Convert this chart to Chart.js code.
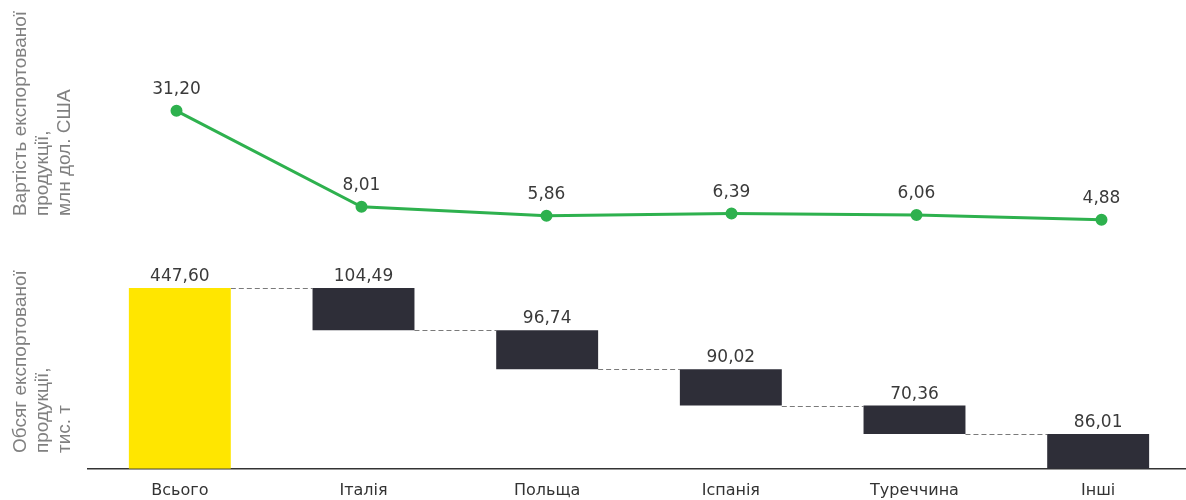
<!DOCTYPE html>
<html>
<head>
<meta charset="utf-8">
<script src="https://cdn.jsdelivr.net/npm/chart.js@4.4.1/dist/chart.umd.min.js"></script>
<style>
  html, body { margin: 0; padding: 0; background: #fff; overflow: hidden; width: 1186px; height: 500px; }
  #top { position: absolute; left: 0; top: 0; }
  #bottom { position: absolute; left: 0; top: 250px; }
  .ttl { position: absolute; transform-origin: 0 0; transform: rotate(-90deg); white-space: nowrap;
         font-family: "Liberation Sans", Arial, sans-serif; font-size: 19px; line-height: 20px; color: #808080; }
</style>
</head>
<body>
<canvas id="top" width="1194" height="250"></canvas>
<canvas id="bottom" width="1190" height="256"></canvas>

<div class="ttl" style="left:10px; top:216px;">Вартість експортованої</div>
<div class="ttl" style="left:32px; top:216px;">продукції,</div>
<div class="ttl" style="left:54px; top:216px;">млн дол. США</div>

<div class="ttl" style="left:10px; top:453px;">Обсяг експортованої</div>
<div class="ttl" style="left:32px; top:453px;">продукції,</div>
<div class="ttl" style="left:54px; top:453px;">тис. т</div>

<script>
// ---- data ----
const categories = ['Всього', 'Італія', 'Польща', 'Іспанія', 'Туреччина', 'Інші'];
const exportValue = [31.20, 8.01, 5.86, 6.39, 6.06, 4.88];      // млн дол. США
const totalVolume = 447.60;                                       // тис. т
const countryVolumes = [104.49, 96.74, 90.02, 70.36, 86.01];      // тис. т

// ---- derived waterfall ranges ----
const volumeLabels = [totalVolume].concat(countryVolumes);
const barRanges = [[0, totalVolume]];
let level = totalVolume;
countryVolumes.forEach(v => {
  const low = Math.max(0, level - v);
  barRanges.push([low, level]);
  level = low;
});
const fmt = v => v.toFixed(2).replace('.', ',');

const LABEL_FONT = '17px "DejaVu Sans", sans-serif';
const LABEL_COLOR = '#3a3a3a';

const valueLabels = {
  id: 'valueLabels',
  afterDatasetsDraw(chart, args, opts) {
    const ctx = chart.ctx;
    const meta = chart.getDatasetMeta(0);
    ctx.save();
    ctx.font = LABEL_FONT;
    ctx.fillStyle = LABEL_COLOR;
    ctx.textAlign = 'center';
    ctx.textBaseline = 'alphabetic';
    meta.data.forEach((el, i) => {
      const p = el.getProps(['x', 'y', 'base'], true);
      const topY = (p.base !== undefined) ? Math.min(p.y, p.base) : p.y;
      ctx.fillText(opts.labels[i], p.x, topY - opts.offset);
    });
    ctx.restore();
  }
};

const connectors = {
  id: 'connectors',
  beforeDatasetsDraw(chart) {
    const ctx = chart.ctx;
    const meta = chart.getDatasetMeta(0);
    const yScale = chart.scales.y;
    ctx.save();
    ctx.strokeStyle = '#7a7a7a';
    ctx.lineWidth = 1;
    ctx.setLineDash([5, 3]);
    for (let i = 0; i < meta.data.length - 1; i++) {
      const a = meta.data[i].getProps(['x', 'width'], true);
      const b = meta.data[i + 1].getProps(['x', 'width'], true);
      const y = Math.round(yScale.getPixelForValue(barRanges[i + 1][1])) + 0.5;
      ctx.beginPath();
      ctx.moveTo(a.x + a.width / 2, y);
      ctx.lineTo(b.x - b.width / 2, y);
      ctx.stroke();
    }
    ctx.restore();
  }
};

Chart.defaults.font.family = '"DejaVu Sans", sans-serif';

new Chart(document.getElementById('top'), {
  type: 'line',
  data: {
    labels: categories,
    datasets: [{
      data: exportValue,
      borderColor: '#2EB14E',
      backgroundColor: '#2EB14E',
      borderWidth: 3,
      pointRadius: 4.5,
      pointHoverRadius: 4.5,
      tension: 0,
      clip: false
    }]
  },
  options: {
    responsive: false,
    animation: false,
    layout: { autoPadding: false, padding: { left: 84, right: 0, top: 51, bottom: 10 } },
    plugins: { legend: { display: false }, tooltip: { enabled: false },
               valueLabels: { labels: exportValue.map(fmt), offset: 17 } },
    scales: {
      x: { type: 'category', offset: true, display: false },
      y: { display: false, min: 0, max: 45.65 }
    }
  },
  plugins: [valueLabels]
});

new Chart(document.getElementById('bottom'), {
  type: 'bar',
  data: {
    labels: categories,
    datasets: [{
      data: barRanges,
      backgroundColor: ['#FFE600', '#2E2E38', '#2E2E38', '#2E2E38', '#2E2E38', '#2E2E38'],
      borderWidth: 0,
      barPercentage: 0.555,
      categoryPercentage: 1
    }]
  },
  options: {
    responsive: false,
    animation: false,
    layout: { padding: { left: 88, right: 0, top: 20, bottom: 2 } },
    plugins: { legend: { display: false }, tooltip: { enabled: false },
               valueLabels: { labels: volumeLabels.map(fmt), offset: 7 } },
    scales: {
      x: {
        type: 'category', offset: true,
        grid: { display: false },
        border: { display: true, color: '#333', width: 1.5 },
        ticks: { color: '#333', font: { size: 16 }, padding: 4, maxRotation: 0 }
      },
      y: { display: false, min: 0, max: 492 }
    }
  },
  plugins: [connectors, valueLabels]
});
</script>
</body>
</html>
